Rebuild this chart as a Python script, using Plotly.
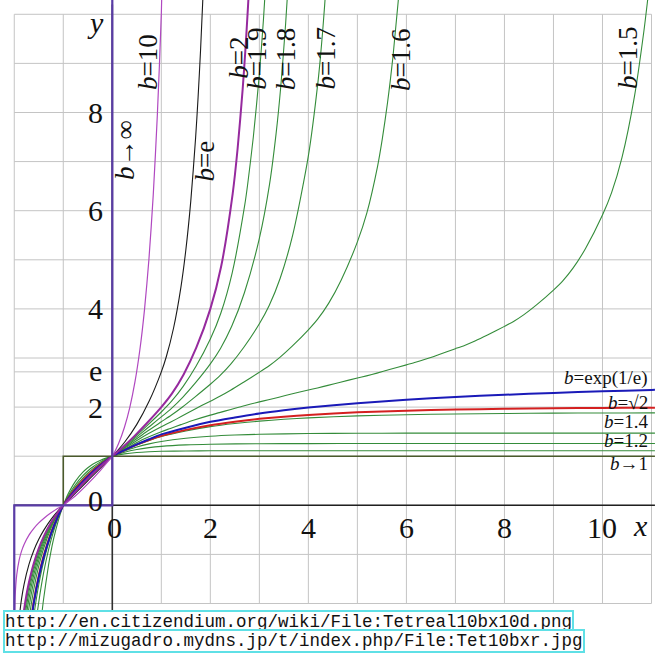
import plotly.graph_objects as go

# ---------------- data ----------------
# b = 10
X_B10 = [-1.995, -1.98, -1.95, -1.9, -1.85, -1.8, -1.7, -1.6, -1.5, -1.4, -1.25, -1.1, -1, -0.9, -0.75, -0.5,
         -0.25, -0.1, 0, 0.1279, 0.2464, 0.3574, 0.4621, 0.5616, 0.6564, 0.7472, 0.8345, 0.9187, 1, 1.02]
Y_B10 = [-2.425, -1.821, -1.419, -1.111, -0.928, -0.796, -0.606, -0.469, -0.359, -0.268, -0.153, -0.057, 0, 0.0775,
         0.1953, 0.4375, 0.7031, 0.8775, 1, 1.259, 1.585, 1.995, 2.512, 3.162, 3.981, 5.012, 6.310, 7.943, 10, 10.85]
# b = e
X_BE = [-1.92, -1.9, -1.85, -1.8, -1.7, -1.6, -1.5, -1.4, -1.25, -1.1, -1, -0.5, 0, 0.25, 0.5, 0.75, 1, 1.1, 1.25,
        1.4, 1.5, 1.6, 1.7, 1.75, 1.8, 1.85]
Y_BE = [-2.526, -2.303, -1.897, -1.609, -1.204, -0.916, -0.693, -0.511, -0.288, -0.105, 0, 0.5, 1, 1.284, 1.6487,
        2.117, 2.718, 3.020, 3.611, 4.445, 5.200, 6.185, 7.492, 8.306, 9.258, 10.377]
# b = 2
X_B2 = [-1.9, -1.85, -1.8, -1.75, -1.7, -1.6, -1.5, -1.4, -1.25, -1.1, -1, -0.75, -0.5, -0.25, 0, 0.2192, 0.4554,
        0.7132, 1, 1.2192, 1.4554, 1.7132, 2, 2.2192, 2.4554, 2.5556, 2.6596, 2.7132, 2.7679, 2.7902]
Y_B2 = [-3.105, -2.532, -2.128, -1.817, -1.566, -1.174, -0.876, -0.637, -0.352, -0.126, 0, 0.2838, 0.545, 0.7838,
        1, 1.189, 1.414, 1.682, 2, 2.280, 2.665, 3.209, 4, 4.857, 6.343, 7.256, 8.476, 9.248, 10.15, 10.56]
# b = 1.9
X_B19 = [-1.85, -1.8, -1.7, -1.6, -1.5, -1.4, -1.25, -1.1, -1, -0.75, -0.5, -0.25, 0, 0.2134, 0.4461, 0.7046, 1,
         1.2134, 1.4461, 1.7046, 2, 2.2134, 2.4461, 2.7046, 2.7603, 2.8764, 3, 3.0833, 3.1260]
Y_B19 = [-2.691, -2.257, -1.655, -1.236, -0.919, -0.666, -0.366, -0.131, 0, 0.2909, 0.5545, 0.7909, 1, 1.1741,
         1.3784, 1.6183, 1.9, 2.1247, 2.4223, 2.8255, 3.3856, 3.9106, 4.7339, 6.1320, 6.528, 7.495, 8.785, 9.890,
         10.571]
# b = 1.8
X_B18 = [-1.8, -1.75, -1.7, -1.6, -1.5, -1.4, -1.25, -1.1, -1, -0.75, -0.5, -0.25, 0, 0.2073, 0.4361, 0.6949, 1,
         1.2073, 1.4361, 1.6949, 2, 2.2073, 2.4361, 2.6949, 3, 3.2073, 3.3415, 3.4361, 3.5353, 3.5870]
Y_B18 = [-2.417, -2.056, -1.764, -1.312, -0.971, -0.701, -0.382, -0.136, 0, 0.2988, 0.565, 0.7988, 1, 1.1583,
         1.3416, 1.5540, 1.8, 1.9756, 2.2003, 2.4928, 2.8807, 3.1939, 3.6447, 4.3289, 5.4371, 6.5360, 7.569, 8.5198,
         9.797, 10.609]
# b = 1.7
X_B17 = [-1.8, -1.75, -1.7, -1.6, -1.5, -1.4, -1.25, -1.1, -1, -0.75, -0.5, -0.25, 0, 0.2007, 0.4250, 0.6836, 1,
         1.2007, 1.4250, 1.6836, 2, 2.2007, 2.4250, 2.6836, 3, 3.2007, 3.4250, 3.6836, 4, 4.2007, 4.2435, 4.2872,
         4.3319, 4.3778]
Y_B17 = [-2.619, -2.222, -1.902, -1.408, -1.037, -0.744, -0.403, -0.142, 0, 0.3076, 0.5768, 0.8076, 1, 1.1419,
         1.3038, 1.4888, 1.7, 1.8330, 1.9973, 2.2034, 2.4647, 2.6449, 2.8858, 3.2193, 3.6983, 4.0693, 4.6242, 5.5194,
         7.1162, 8.665, 9.103, 9.604, 10.181, 10.852]
# b = 1.6
X_B16 = [-1.8, -1.75, -1.7, -1.6, -1.5, -1.4, -1.25, -1.1, -1, -0.75, -0.5, -0.25, 0, 0.1936, 0.4125, 0.6702, 1,
         1.1936, 1.4125, 1.6702, 2, 2.1936, 2.4125, 2.6702, 3, 3.1936, 3.4125, 3.6702, 4, 4.1936, 4.4125, 4.6702, 5,
         5.1936, 5.4125, 5.5098, 5.6145, 5.6702, 5.7286, 5.8553]
Y_B16 = [-2.884, -2.440, -2.082, -1.533, -1.122, -0.800, -0.428, -0.149, 0, 0.3177, 0.5903, 0.8177, 1, 1.1247,
         1.2649, 1.4226, 1.6, 1.6965, 1.8121, 1.9516, 2.1213, 2.2197, 2.3436, 2.5024, 2.7102, 2.8385, 3.0086, 3.2418,
         3.5745, 3.7967, 4.1126, 4.5893, 5.3660, 5.9563, 6.9094, 7.4725, 8.198, 8.645, 9.167, 10.505]
# b = 1.5
X_B15 = [-1.75, -1.7, -1.6, -1.5, -1.4, -1.25, -1.1, -1, -0.75, -0.5, -0.25, 0,
         0.186, 0.3986, 0.6543, 1, 1.186, 1.3986, 1.6543, 2, 2.186, 2.3986, 2.6543, 3, 3.186, 3.3986, 3.6543,
         4, 4.186, 4.3986, 4.6543, 5, 5.186, 5.3986, 5.6543, 6, 6.186, 6.3986, 6.6543, 7, 7.186, 7.3986, 7.6543,
         8, 8.186, 8.3986, 8.6543, 9, 9.186, 9.3986, 9.6543, 10, 10.186, 10.3986, 10.6543, 10.8444, 10.9182,
         10.9498]
Y_B15 = [-2.740, -2.330, -1.702, -1.236, -0.874, -0.462, -0.158, 0, 0.3293, 0.6058, 0.8293, 1,
         1.1067, 1.2247, 1.3554, 1.5, 1.5663, 1.6431, 1.7325, 1.8371, 1.8872, 1.9470, 2.0189, 2.1062, 2.1495,
         2.2023, 2.2674, 2.3490, 2.3906, 2.4424, 2.5076, 2.5920, 2.6361, 2.6920, 2.7642, 2.8604, 2.9120, 2.9788,
         3.0672, 3.1893, 3.2567, 3.3462, 3.4683, 3.6442, 3.7451, 3.8835, 4.0806, 4.3826, 4.5656, 4.8291, 5.2310,
         5.9120, 6.3680, 7.0862, 8.3387, 9.654, 10.263, 10.540]
# b = exp(1/e)
X_BEXP = [-1.7, -1.6, -1.5, -1.4, -1.25, -1.1, -1, -0.9, -0.75, -0.6, -0.5, -0.4, -0.25, -0.1, 0, 0.25, 0.5, 0.75,
          1, 1.5, 2, 2.5, 3, 3.5, 4, 5, 6, 7, 8, 9, 10, 11, 11.07]
Y_BEXP = [-2.665, -1.982, -1.467, -1.060, -0.580, -0.206, 0, 0.1347, 0.3180, 0.4824, 0.5830, 0.6772, 0.8079,
          0.9270, 1, 1.1241, 1.2392, 1.3461, 1.4447, 1.5806, 1.7014, 1.7897, 1.870, 1.935, 1.990, 2.0796, 2.1493,
          2.2051, 2.2509, 2.2891, 2.3214, 2.3492, 2.351]
# b = sqrt(2)
X_BSQ2 = [-1.7, -1.6, -1.5, -1.4, -1.25, -1.1, -1, -0.9, -0.75, -0.6, -0.5, -0.4, -0.25, -0.1, 0, 0.25, 0.5, 0.75,
          1, 1.5, 2, 2.5, 3, 3.5, 4, 5, 6, 7, 8, 9, 10, 11, 11.07]
Y_BSQ2 = [-2.653, -1.953, -1.435, -1.030, -0.560, -0.199, 0, 0.1466, 0.3401, 0.5082, 0.6081, 0.6999, 0.8237,
          0.9335, 1, 1.1251, 1.2346, 1.3304, 1.4142, 1.5362, 1.6325, 1.7035, 1.7608, 1.805, 1.8410, 1.8927, 1.9269,
          1.9499, 1.9655, 1.9762, 1.9836, 1.9887, 1.989]
# b = 1.4
X_B14 = [-1.7, -1.6, -1.5, -1.4, -1.25, -1.1, -1, -0.9, -0.75, -0.6, -0.5, -0.4, -0.25, -0.1, 0, 0.25, 0.5, 0.75,
         1, 1.5, 2, 2.5, 3, 3.5, 4, 5, 6, 7, 8, 9, 10, 11, 11.07]
Y_B14 = [-2.686, -1.972, -1.446, -1.036, -0.561, -0.198, 0, 0.1495, 0.3461, 0.5150, 0.6148, 0.7057, 0.8281, 0.9356,
         1, 1.1235, 1.2298, 1.3213, 1.4, 1.5143, 1.6017, 1.665, 1.7142, 1.7513, 1.7803, 1.8204, 1.8451, 1.8605,
         1.8702, 1.8763, 1.8801, 1.8825, 1.8826]
# b = 1.3
X_B13 = [-1.65, -1.6, -1.5, -1.4, -1.25, -1.1, -1, -0.9, -0.75, -0.6, -0.5, -0.4, -0.25, -0.1, 0, 0.25, 0.5, 0.75,
         1, 1.5, 2, 2.5, 3, 4, 5, 6, 7, 8, 11.07]
Y_B13 = [-2.628, -2.239, -1.618, -1.143, -0.608, -0.210, 0, 0.1692, 0.3820, 0.5558, 0.6541, 0.7410, 0.8526, 0.9463,
         1, 1.1054, 1.1872, 1.2507, 1.3, 1.3659, 1.4064, 1.4311, 1.4463, 1.4615, 1.4673, 1.4696, 1.4704, 1.4707,
         1.4709]
# b = 1.2
X_B12 = [-1.6, -1.55, -1.5, -1.4, -1.3, -1.2, -1.1, -1, -0.9, -0.75, -0.6, -0.5, -0.4, -0.25, -0.1, 0, 0.25, 0.5,
         0.75, 1, 1.5, 2, 3, 4, 5, 11.07]
Y_B12 = [-2.779, -2.343, -1.969, -1.367, -0.901, -0.534, -0.239, 0, 0.1929, 0.4241, 0.6025, 0.6984, 0.7794, 0.8789,
         0.9573, 1, 1.0804, 1.1358, 1.1738, 1.2, 1.2302, 1.2446, 1.2547, 1.2570, 1.2575, 1.2577]
# b = 1.1
X_B11 = [-1.45, -1.4, -1.3, -1.25, -1.2, -1.1, -1, -0.95, -0.9, -0.8, -0.75, -0.6, -0.5, -0.4, -0.25, -0.1, 0, 0.25,
         0.5, 0.75, 1, 1.5, 2, 3, 11.07]
Y_B11 = [-2.319, -1.897, -1.213, -0.935, -0.695, -0.305, 0, 0.1241, 0.2335, 0.4165, 0.4929, 0.6736, 0.7637, 0.8346,
         0.9147, 0.9714, 1, 1.0481, 1.0755, 1.0911, 1.1, 1.1073, 1.1105, 1.1117, 1.1118]
# limits b -> infinity and b -> 1
X_BINF = [-2, -2, 0, 0]
Y_BINF = [-2.4, 0, 0, 10.4]
X_BONE = [-1, -1, 11.07]
Y_BONE = [0, 1, 1]

# tick labels
X_TICKS = [0, 2, 4, 6, 8, 10]
X_TICK_TEXT = ["0", "2", "4", "6", "8", "10"]
Y_TICKS = [0.1, 2, 2.75, 4, 6, 8]
Y_TICK_TEXT = ["0", "2", "e", "4", "6", "8"]
GRID_X = list(range(-2, 12))
GRID_Y = list(range(-2, 11)) + [2.718]

URL1 = "http://en.citizendium.org/wiki/File:Tetreal10bx10d.png"
URL2 = "http://mizugadro.mydns.jp/t/index.php/File:Tet10bxr.jpg"

# ---------------- figure ----------------
GREEN = "#348c3a"
fig = go.Figure()

shapes = []
for gx in GRID_X:
    shapes.append(dict(type="line", xref="x", yref="y", x0=gx, x1=gx, y0=-2, y1=10,
                       line=dict(color="#c4c4c4", width=1), layer="below"))
for gy in GRID_Y:
    shapes.append(dict(type="line", xref="x", yref="y", x0=-2, x1=11, y0=gy, y1=gy,
                       line=dict(color="#c4c4c4", width=1), layer="below"))
# axes
shapes.append(dict(type="line", xref="x", yref="y", x0=-2, x1=11.07, y0=0, y1=0,
                   line=dict(color="#202020", width=1.6), layer="below"))
shapes.append(dict(type="line", xref="x", yref="y", x0=0, x1=0, y0=-2.4, y1=10.2,
                   line=dict(color="#303030", width=1.6), layer="below"))


def add(xs, ys, color, width, shape="spline"):
    line = dict(color=color, width=width, shape=shape)
    if shape == "spline":
        line["smoothing"] = 0.7
    fig.add_trace(go.Scatter(x=xs, y=ys, mode="lines", line=line,
                             hoverinfo="skip", showlegend=False))


for xs, ys in [(X_B11, Y_B11), (X_B12, Y_B12), (X_B13, Y_B13), (X_B14, Y_B14),
               (X_B15, Y_B15), (X_B16, Y_B16), (X_B17, Y_B17), (X_B18, Y_B18), (X_B19, Y_B19)]:
    add(xs, ys, GREEN, 1.1)
add(X_BSQ2, Y_BSQ2, "#d42020", 2.0)
add(X_BEXP, Y_BEXP, "#1a1ab8", 2.0)
add(X_BE, Y_BE, "#1a1a1a", 1.1)
add(X_B2, Y_B2, "#962a9e", 2.0)
add(X_B10, Y_B10, "#b048c0", 1.2)
add(X_BONE, Y_BONE, "#4a5a2c", 1.6, shape="linear")
add(X_BINF, Y_BINF, "#5a3ca6", 2.2, shape="linear")

SERIF = "Liberation Serif"
ann = []
for v, t in zip(X_TICKS, X_TICK_TEXT):
    ann.append(dict(x=v + (0.05 if v == 0 else 0), y=-0.46, text=t, showarrow=False,
                    font=dict(family=SERIF, size=30, color="#111")))
for v, t in zip(Y_TICKS, Y_TICK_TEXT):
    ann.append(dict(x=-0.34, y=v, text=t, showarrow=False,
                    font=dict(family=SERIF, size=30, color="#111")))
ann.append(dict(x=10.78, y=-0.42, text="<i>x</i>", showarrow=False,
                font=dict(family=SERIF, size=30, color="#111")))
ann.append(dict(x=-0.34, y=9.84, text="<i>y</i>", showarrow=False,
                font=dict(family=SERIF, size=30, color="#111")))

rot_labels = [
    (0.255, 7.23, "<i>b</i>→∞"),
    (0.73, 9.03, "<i>b</i>=10"),
    (1.89, 7.02, "<i>b</i>=e"),
    (2.58, 9.11, "<i>b</i>=2"),
    (2.95, 9.09, "<i>b</i>=1.9"),
    (3.55, 9.09, "<i>b</i>=1.8"),
    (4.35, 9.09, "<i>b</i>=1.7"),
    (5.89, 9.07, "<i>b</i>=1.6"),
    (10.52, 9.11, "<i>b</i>=1.5"),
]
for x, y, t in rot_labels:
    ann.append(dict(x=x, y=y, text=t, showarrow=False, textangle=-90,
                    font=dict(family=SERIF, size=27, color="#111")))

right_labels = [
    (2.60, "<i>b</i>=exp(1/e)"),
    (2.10, "<i>b</i>=√2"),
    (1.70, "<i>b</i>=1.4"),
    (1.31, "<i>b</i>=1.2"),
    (0.86, "<i>b</i>→1"),
]
for y, t in right_labels:
    ann.append(dict(x=10.97, y=y, text=t, showarrow=False, xanchor="right",
                    font=dict(family=SERIF, size=19, color="#111")))

for yp, t in [(1 - 621.5 / 653, URL1), (1 - 640.5 / 653, URL2)]:
    ann.append(dict(xref="paper", yref="paper", x=3 / 669, y=yp, xanchor="left", yanchor="middle",
                    text=t, showarrow=False, bgcolor="white", bordercolor="#5fe0e6", borderwidth=2,
                    borderpad=0, font=dict(family="Liberation Mono", size=17.5, color="#111")))

fig.update_layout(
    width=669, height=653, margin=dict(l=0, r=0, t=0, b=0),
    paper_bgcolor="white", plot_bgcolor="white",
    xaxis=dict(range=[-2.291, 11.357], showgrid=False, zeroline=False, showticklabels=False,
               showline=False, fixedrange=True),
    yaxis=dict(range=[-3.008, 10.291], showgrid=False, zeroline=False, showticklabels=False,
               showline=False, fixedrange=True),
    shapes=shapes, annotations=ann,
)
fig.write_html("out.html", config={"displayModeBar": False},
               post_script="document.body.style.margin='0';document.body.style.padding='0';"
                           "document.body.style.overflow='hidden';")
